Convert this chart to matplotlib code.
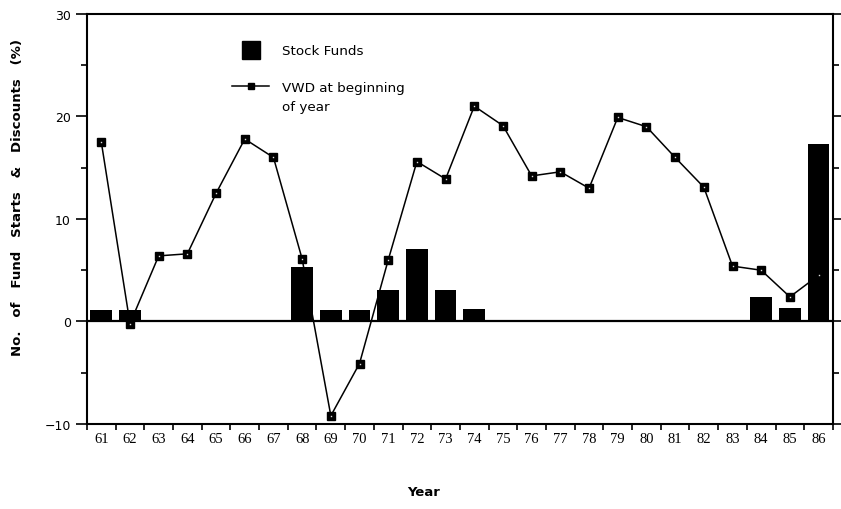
import numpy as np
import matplotlib.pyplot as plt
from matplotlib.lines import Line2D

# data
years = ['61', '62', '63', '64', '65', '66', '67', '68', '69', '70', '71', '72', '73',
         '74', '75', '76', '77', '78', '79', '80', '81', '82', '83', '84', '85', '86']
stock_funds = [1.1, 1.1, 0, 0, 0, 0, 0, 5.3, 1.1, 1.1, 3.1, 7.1, 3.1,
               1.2, 0, 0, 0, 0, 0, 0, 0, 0, 0, 2.4, 1.3, 17.3]
vwd = [17.5, -0.2, 6.4, 6.6, 12.5, 17.8, 16.0, 6.1, -9.2, -4.1, 6.0, 15.6, 13.9,
       21.0, 19.1, 14.2, 14.6, 13.0, 19.9, 19.0, 16.0, 13.1, 5.4, 5.0, 2.4, 4.5]

x = np.arange(len(years))

fig = plt.figure(figsize=(8.41, 5.10), dpi=100)
ax = fig.add_axes([0.1034, 0.1667, 0.887, 0.804])

ax.bar(x, stock_funds, width=0.76, color='black', zorder=2)
ax.axhline(0, color='black', lw=1.6, zorder=3)
ax.plot(x, vwd, color='black', lw=1.1, marker='s', ms=5.5,
        mfc='black', mec='black', zorder=4)
# tiny light dot in the middle of each marker
ax.plot(x, vwd, ls='none', marker='s', ms=1.0, mfc='#dddddd', mec='none', zorder=5)

ax.set_xlim(-0.5, len(years) - 0.5)
ax.set_ylim(-10, 30)

ax.set_xticks(x)
ax.set_xticklabels(years, fontfamily='Liberation Serif', fontsize=10.5)
ax.set_xticks(np.arange(len(years) + 1) - 0.5, minor=True)
ax.tick_params(axis='x', which='major', length=0, pad=6)
ax.tick_params(axis='x', which='minor', length=4, width=1.2, direction='out')

ax.set_yticks([-10, 0, 10, 20, 30])
ax.set_yticks([-5, 5, 15, 25], minor=True)
ax.tick_params(axis='y', which='major', length=8, width=1.2, labelsize=9, right=True)
ax.tick_params(axis='y', which='minor', length=4, width=1.2, right=True)

for s in ax.spines.values():
    s.set_linewidth(1.5)

ax.set_ylabel('No.   of   Fund   Starts   &   Discounts   (%)', fontsize=9.5,
              fontweight='bold')
ax.yaxis.set_label_coords(-0.085, 0.555)
fig.text(0.504, 0.027, 'Year', fontsize=9.5, fontweight='bold', ha='center')

handles = [Line2D([], [], ls='none', marker='s', ms=13, color='black'),
           Line2D([], [], color='black', lw=1.1, marker='s', ms=5)]
labels = ['Stock Funds', 'VWD at beginning']
leg = ax.legend(handles, labels, loc='upper left', bbox_to_anchor=(0.262, 0.935),
                bbox_transform=fig.transFigure, frameon=False, fontsize=9.7,
                handlelength=2.7, handletextpad=1.0, labelspacing=1.75)
# second line of the legend label
fig.text(0.3353, 1 - 107 / 510, 'of year', fontsize=9.7, va='center', ha='left')

fig.savefig('out.png', dpi=100)
